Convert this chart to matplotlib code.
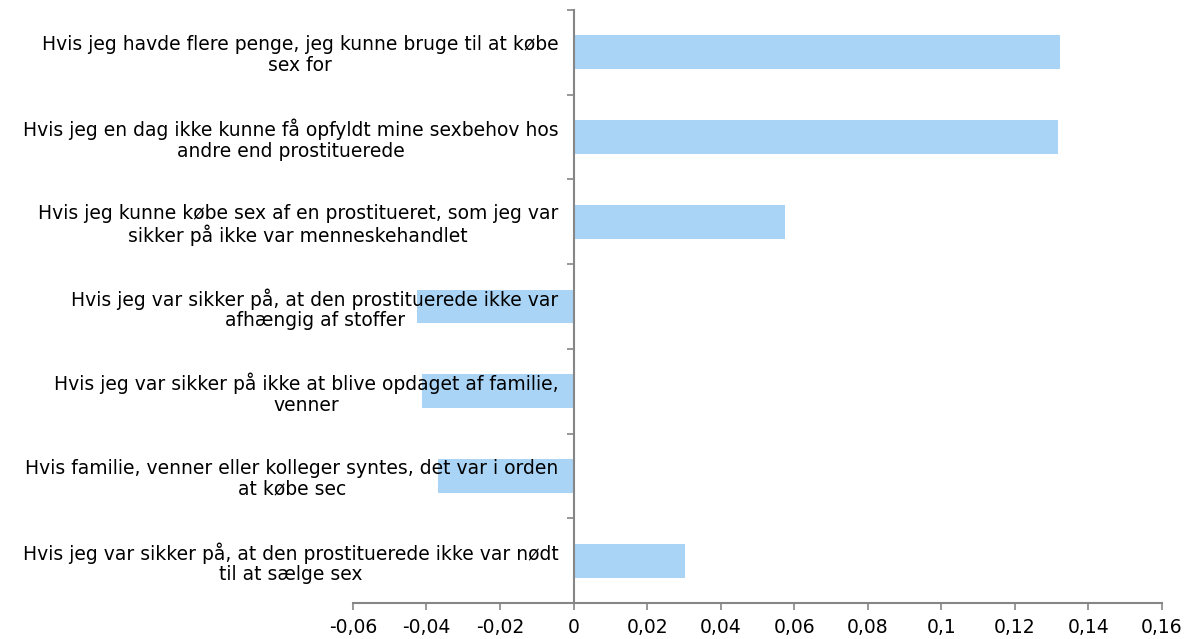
import numpy as np
import matplotlib
matplotlib.use("Agg")
import matplotlib.pyplot as plt
from matplotlib.ticker import FixedLocator, FuncFormatter

FONT = "DejaVu Sans"
plt.rcParams["font.family"] = [FONT]

LABELS = [
    "Hvis jeg havde flere penge, jeg kunne bruge til at købe\nsex for",
    "Hvis jeg en dag ikke kunne få opfyldt mine sexbehov hos\nandre end prostituerede",
    "Hvis jeg kunne købe sex af en prostitueret, som jeg var\nsikker på ikke var menneskehandlet",
    "Hvis jeg var sikker på, at den prostituerede ikke var\nafhængig af stoffer",
    "Hvis jeg var sikker på ikke at blive opdaget af familie,\nvenner",
    "Hvis familie, venner eller kolleger syntes, det var i orden\nat købe sec",
    "Hvis jeg var sikker på, at den prostituerede ikke var nødt\ntil at sælge sex",
]
VALUES = [0.1322, 0.1317, 0.0574, -0.0427, -0.0411, -0.0370, 0.0302]
XTICKS = [-0.06, -0.04, -0.02, 0, 0.02, 0.04, 0.06, 0.08, 0.1, 0.12, 0.14, 0.16]

BAR_COLOR = "#A9D4F5"
AXIS_COLOR = "#868686"

fig = plt.figure(figsize=(11.94, 6.39), dpi=100)
ax = fig.add_axes([0.2956, 0.0563, 0.6776, 0.9281])

y = np.arange(len(LABELS))
ax.barh(y, VALUES, height=0.4, color=BAR_COLOR, zorder=1)

ax.set_xlim(-0.06, 0.16)
ax.set_ylim(len(LABELS) - 0.5, -0.5)

# value axis along the bottom
ax.set_xticks(XTICKS)
ax.set_xticklabels([f"{v:g}".replace(".", ",") for v in XTICKS], family=FONT, fontsize=13.5)
ax.tick_params(axis="x", direction="out", length=5, width=1.2, color=AXIS_COLOR,
               pad=6, labelcolor="black")

# category axis sits at zero, ticks between categories, labels at centres
ax.spines["left"].set_position(("data", 0))
ax.yaxis.set_major_locator(FixedLocator(np.arange(-0.5, len(LABELS), 1.0)))
ax.yaxis.set_major_formatter(FuncFormatter(lambda v, p: ""))
ax.yaxis.set_minor_locator(FixedLocator(y))
ax.set_yticklabels(LABELS, minor=True, ha="right", multialignment="center",
                   family=FONT, fontsize=13.5, linespacing=1.1)
ax.tick_params(axis="y", which="major", direction="out", length=5, width=1.2, color=AXIS_COLOR)
ax.tick_params(axis="y", which="minor", length=0, pad=11, labelcolor="black")

for side in ["top", "right"]:
    ax.spines[side].set_visible(False)
for side in ["left", "bottom"]:
    ax.spines[side].set_color(AXIS_COLOR)
    ax.spines[side].set_linewidth(1.5)

fig.savefig("out.png", dpi=100)
